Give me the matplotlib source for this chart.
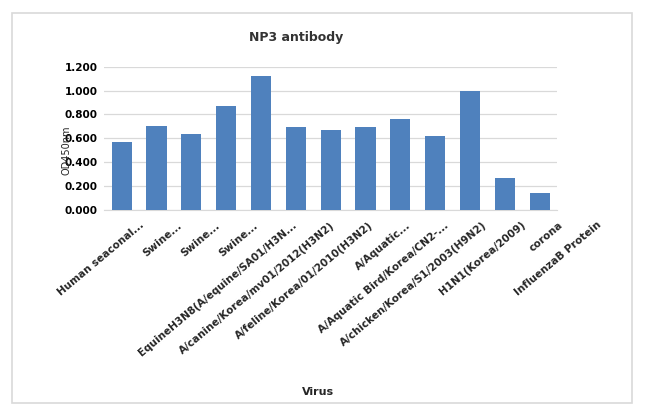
import numpy as np
import matplotlib
matplotlib.use('Agg')
import matplotlib.pyplot as plt
from matplotlib.patches import Rectangle
import matplotlib.transforms as mtransforms

# data
viruses = ['Human seaconal...', 'Swine...', 'Swine...', 'Swine...',
           'EquineH3N8(A/equine/SA01/H3N...',
           'A/canine/Korea/mv01/2012(H3N2)',
           'A/feline/Korea/01/2010(H3N2)',
           'A/Aquatic...',
           'A/Aquatic Bird/Korea/CN2-...',
           'A/chicken/Korea/S1/2003(H9N2)',
           'H1N1(Korea/2009)', 'corona', 'InfluenzaB Protein']
od450 = [0.567, 0.706, 0.639, 0.868, 1.125, 0.695, 0.670,
         0.695, 0.765, 0.620, 0.997, 0.268, 0.142]
yticks = [0.0, 0.2, 0.4, 0.6, 0.8, 1.0, 1.2]

W, H = 646, 415
fig = plt.figure(figsize=(W / 100, H / 100), dpi=100)

# chart frame
fig.patches.append(Rectangle((12 / W, 1 - 403 / H), 620 / W, 390 / H,
                             transform=fig.transFigure, fill=False,
                             edgecolor='#d9d9d9', lw=1.2))

ax = fig.add_axes([104.3 / W, 1 - 210 / H, 452.8 / W, 143.3 / H])
x = np.arange(len(viruses))
ax.bar(x, od450, width=0.58, color='#4f81bd', zorder=3)
ax.set_xlim(-0.5, len(viruses) - 0.5)
ax.set_ylim(0, 1.2)
ax.set_yticks(yticks)
ax.set_yticklabels(['%.3f' % v for v in yticks], fontsize=7.5, fontweight='bold')
ax.tick_params(axis='y', length=0, pad=5)
ax.set_xticks([])
ax.grid(axis='y', color='#d9d9d9', lw=0.9, zorder=0)
for s in ['top', 'right', 'left']:
    ax.spines[s].set_visible(False)
ax.spines['bottom'].set_color('#d9d9d9')

# rotated category labels (spread a little wider than bars, as in the picture)
trans = mtransforms.blended_transform_factory(ax.transData, fig.transFigure)
for i, lab in enumerate(viruses):
    ax.text(0.5 + 1.095 * i, 1 - 220 / H, lab, transform=trans,
            rotation=40, rotation_mode='anchor', ha='right', va='top',
            fontsize=7.5, fontweight='bold', color='#262626')

fig.text(296 / W, 1 - 38 / H, 'NP3 antibody', ha='center', va='center',
         fontsize=9, fontweight='bold', color='#333333')
fig.text(318 / W, 1 - 392 / H, 'Virus', ha='center', va='center',
         fontsize=8, fontweight='bold', color='#262626')
# y title sits on top of the tick labels, as in the reference
fig.text(67 / W, 1 - 150 / H, 'OD450nm', ha='center', va='center',
         rotation=90, fontsize=7, color='#262626')

fig.savefig('out.png', dpi=100)
